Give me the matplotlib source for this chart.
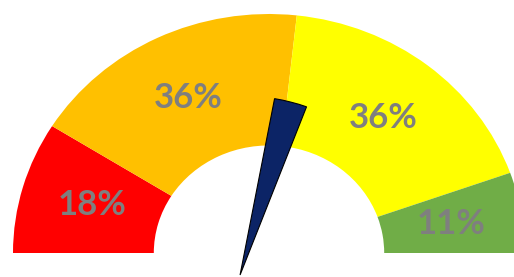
import numpy as np
import matplotlib
matplotlib.use("Agg")
import matplotlib.pyplot as plt
from matplotlib.patches import Wedge

# gauge bands (percent) and their colours
labels = ["18%", "36%", "36%", "11%"]
values = [18, 36, 36, 11]
colors = ["#ff0000", "#ffc000", "#ffff00", "#70ad47"]

# needle position on the gauge (percent of the half circle)
needle_value = 58.5
needle_width = 5.5          # needle thickness, in percent
needle_pivot = (-0.113, -0.092)
needle_len = 0.75

fig = plt.figure(figsize=(5.14, 2.77), dpi=100)
ax = fig.add_axes([0, 0, 1, 1])
ax.set_xlim(-269 / 256, 245 / 256)
ax.set_ylim(-24 / 239, 253 / 239)
ax.axis("off")

# bands run from 180 deg (left) to 0 deg (right)
total = float(sum(values))
start = 180.0
for lab, v, c in zip(labels, values, colors):
    span = 180.0 * v / total
    end = start - span
    ax.add_patch(Wedge((0, 0), 1.0, end, start, width=0.55,
                       facecolor=c, edgecolor="none"))
    mid = np.deg2rad((start + end) / 2)
    ax.text(0.72 * np.cos(mid), 0.72 * np.sin(mid), lab,
            ha="center", va="center", fontsize=25, fontweight="bold",
            family=["Lato", "DejaVu Sans"], color="#7f7f7f")
    start = end

# needle as a thin slice
ang = 180.0 - 180.0 * needle_value / 100.0
half = 180.0 * needle_width / 100.0 / 2
ax.add_patch(Wedge(needle_pivot, needle_len, ang - half, ang + half,
                   facecolor="#0c2466", edgecolor="#000000", linewidth=0.8,
                   zorder=5))

fig.savefig("out.png", dpi=100, facecolor="white")
